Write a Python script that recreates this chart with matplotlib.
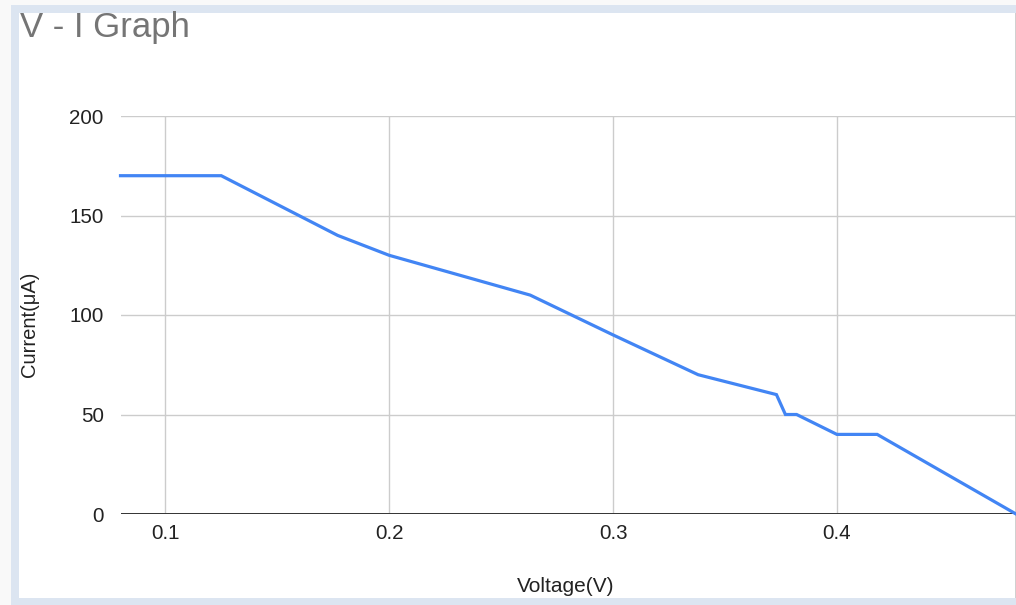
import matplotlib
matplotlib.use("Agg")
import matplotlib.pyplot as plt
from matplotlib.patches import Rectangle

voltage = [0.08, 0.125, 0.177, 0.2, 0.263, 0.3, 0.338, 0.373, 0.377, 0.382, 0.4, 0.418, 0.48]
current = [170, 170, 140, 130, 110, 90, 70, 60, 50, 50, 40, 40, 0]
x_ticks = [0.1, 0.2, 0.3, 0.4]
y_ticks = [0, 50, 100, 150, 200]

plt.rcParams['font.family'] = ['Liberation Sans', 'DejaVu Sans']

W, H = 1016, 605
fig = plt.figure(figsize=(W / 100, H / 100), dpi=100)
fig.patch.set_facecolor('#f9f9f9')

# panel frame: light blue border around a white card
fig.patches.append(Rectangle((11 / W, 0), 1 - 11 / W, 1 - 5 / H, transform=fig.transFigure,
                             facecolor='#dce5f1', edgecolor='none', zorder=-2))
fig.patches.append(Rectangle((19 / W, 7 / H), 996 / W, 1 - 13 / H - 7 / H, transform=fig.transFigure,
                             facecolor='white', edgecolor='none', zorder=-1))
fig.patches.append(Rectangle((1014.5 / W, 7 / H), 1.2 / W, 1 - 13 / H - 7 / H, transform=fig.transFigure,
                             facecolor='#d0d0d0', edgecolor='none', zorder=-1))

left, right, top, bottom = 120.5, 1016, 116, 514
ax = fig.add_axes([left / W, 1 - bottom / H, (right - left) / W, (bottom - top) / H])
ax.set_zorder(2)
ax.set_facecolor('none')

ax.plot(voltage, current, color='#4285f4', linewidth=2.3, solid_joinstyle='miter', zorder=3, clip_on=False)

ax.set_xlim(0.08, 0.48)
ax.set_ylim(0, 200)
ax.set_xticks(x_ticks)
ax.set_yticks(y_ticks)
ax.set_xticklabels([str(v) for v in x_ticks])
ax.set_yticklabels([str(v) for v in y_ticks])
ax.grid(True, color='#cccccc', linewidth=1.0)
ax.axhline(0, color='#333333', linewidth=1.4, zorder=2)
for s in ax.spines.values():
    s.set_visible(False)
ax.tick_params(length=0, labelsize=14.8, colors='#222222', pad=7)
ax.tick_params(axis='y', pad=12)

fig.text(20 / W, 1 - 28 / H, 'V - I Graph', fontsize=25, color='#757575', ha='left', va='center')
fig.text(566 / W, 1 - 587 / H, 'Voltage(V)', fontsize=15, color='#222222', ha='center', va='center')
fig.text(30 / W, 1 - 324 / H, 'Current(μA)', fontsize=14.5, color='#222222', ha='center', va='center',
         rotation=90)

fig.savefig('out.png', dpi=100)
